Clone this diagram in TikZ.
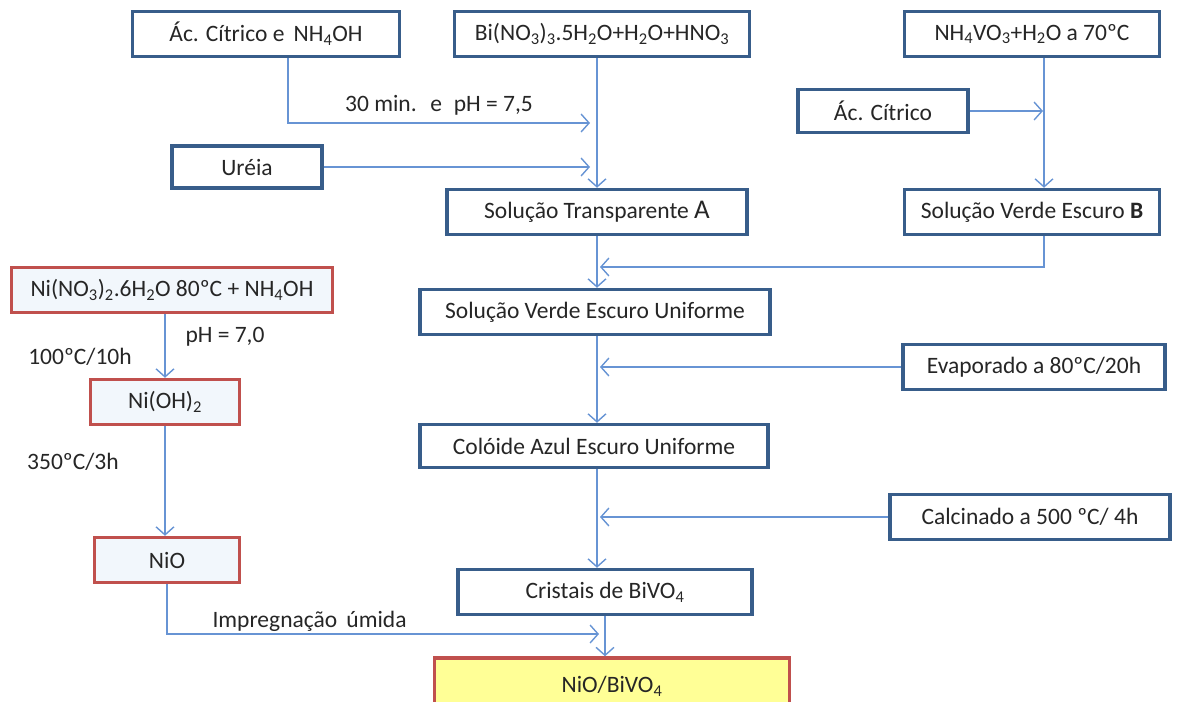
\documentclass[tikz,border=0pt]{standalone}
\usepackage{fontspec}
\setmainfont{Carlito}
\usetikzlibrary{arrows.meta}
\definecolor{boxblue}{RGB}{56,93,138}
\definecolor{boxred}{RGB}{192,80,77}
\definecolor{linkblue}{RGB}{103,148,212}
\definecolor{palefill}{RGB}{242,247,252}
\definecolor{finalfill}{RGB}{255,255,150}
\definecolor{inkgrey}{RGB}{38,38,38}
\newcommand{\ind}[1]{\textsubscript{#1}}
\begin{document}
\begin{tikzpicture}[x=1pt, y=-1pt,
    font=\fontsize{23.5}{27}\selectfont, text=inkgrey,
    stage/.style={draw=boxblue, line width=3.5pt, fill=white, inner sep=0pt},
    nickel/.style={draw=boxred, line width=3.5pt, fill=palefill, inner sep=0pt},
    flow/.style={draw=linkblue, line width=1.4pt, -{Straight Barb[length=8pt,width=18pt]}}]
    \useasboundingbox (0,0) rectangle (1187,702);

    % Reagentes iniciais
    \node[stage, minimum width=267, minimum height=45] (acido) at (266,34) {Ác. Cítrico e\, NH\ind{4}OH};
    \node[stage, minimum width=295, minimum height=45] (bismuto) at (602,34) {Bi(NO\ind{3})\ind{3}.5H\ind{2}O+H\ind{2}O+HNO\ind{3}};
    \node[stage, minimum width=255, minimum height=45] (vanadato) at (1032,34) {NH\ind{4}VO\ind{3}+H\ind{2}O a 70ºC};
    \node[stage, minimum width=170, minimum height=43] (citrico) at (883,111) {Ác. Cítrico};
    \node[stage, minimum width=150, minimum height=42] (ureia) at (247,167) {Uréia};

    % Solucoes
    \node[stage, minimum width=300, minimum height=45] (solA) at (597,212) {Solução Transparente {\fontsize{27}{30}\selectfont A}};
    \node[stage, minimum width=255, minimum height=45] (solB) at (1032,212) {Solução Verde Escuro \textbf{B}};
    \node[stage, minimum width=350, minimum height=45] (uniforme) at (595,312) {Solução Verde Escuro Uniforme};
    \node[stage, minimum width=262, minimum height=45] (evapora) at (1034,367) {Evaporado a 80ºC/20h};
    \node[stage, minimum width=348, minimum height=43] (coloide) at (594,446) {Colóide Azul Escuro Uniforme};
    \node[stage, minimum width=280, minimum height=45] (calcina) at (1030,517) {Calcinado a 500 ºC/ 4h};
    \node[stage, minimum width=294, minimum height=45] (cristais) at (605,592) {Cristais de BiVO\ind{4}};

    % Ramo do niquel
    \node[nickel, minimum width=321, minimum height=45] (niquel) at (172,290) {Ni(NO\ind{3})\ind{2}.6H\ind{2}O 80ºC + NH\ind{4}OH};
    \node[nickel, minimum width=149, minimum height=45] (hidroxido) at (165,402) {Ni(OH)\ind{2}};
    \node[nickel, minimum width=145, minimum height=45] (oxido) at (167,560) {NiO};
    \node[nickel, fill=finalfill, minimum width=355, minimum height=56] (final) at (612,686) {NiO/BiVO\ind{4}};

    % Pontos de chegada
    \coordinate (mistura) at (590,123);
    \coordinate (entradaU) at (590,167);
    \coordinate (entradaC) at (1043,112);
    \coordinate (juncaoB) at (600,267);
    \coordinate (entradaE) at (600,367);
    \coordinate (entradaK) at (600,517);
    \coordinate (entradaN) at (599,634);

    % Ligacoes
    \draw[flow] ([xshift=22]acido.south) |- (mistura)
        node[pos=0.75, above=4pt, text=inkgrey] {30 min.\; e\; pH = 7,5};
    \draw[flow] (ureia.east) -- (ureia.east -| entradaU);
    \draw[flow] (solA.north |- bismuto.south) -- (solA.north);
    \draw[flow] ([xshift=12]vanadato.south) -- ([xshift=12]solB.north);
    \draw[flow] (citrico.east) -- (citrico.east -| entradaC);
    \draw[flow] ([xshift=12]solB.south) |- (juncaoB);
    \draw[flow] (solA.south) -- (solA.south |- uniforme.north);
    \draw[flow] (evapora.west) -- (evapora.west -| entradaE);
    \draw[flow] (solA.south |- uniforme.south) -- (solA.south |- coloide.north);
    \draw[flow] (calcina.west) -- (calcina.west -| entradaK);
    \draw[flow] (solA.south |- coloide.south) -- (solA.south |- cristais.north);
    \draw[flow] (cristais.south) -- (cristais.south |- final.north);
    \draw[flow] (niquel.south -| hidroxido.north) -- (hidroxido.north);
    \draw[flow] (hidroxido.south) -- (hidroxido.south |- oxido.north);
    \draw[flow] (oxido.south) |- (entradaN)
        node[pos=0.665, above=-2pt, text=inkgrey] {Impregnação\, úmida};

    % Condicoes
    \node (ph) at (225,337) {pH = 7,0};
    \node (seca) at (80,357) {100ºC/10h};
    \node (queima) at (73,462) {350ºC/3h};
\end{tikzpicture}
\end{document}
